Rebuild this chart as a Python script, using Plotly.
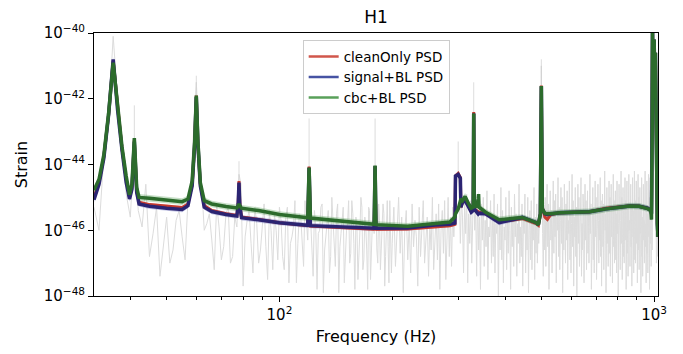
import numpy as np
import plotly.graph_objects as go

# ---------------- data (log10 of strain PSD) ----------------
GRAY_FREQ = np.arange(32, 1024, 2)
GRAY_LOG = [
    -45.3, -43.7, -40.1, -43.3, -45.6, -45.4, -44.6, -46.1, -47.4, -45.6,
    -46.6, -45.4, -46.9, -44.6, -41.5, -44.7, -45.8, -46.3, -45.2, -46.9,
    -45.5, -47.0, -45.6, -44.3, -47.7, -45.7, -46.4, -45.3, -47.0, -45.9,
    -46.5, -45.4, -47.2, -46.0, -45.3, -46.8, -45.6, -47.6, -46.2, -45.1,
    -46.4, -45.6, -47.1, -45.9, -44.6, -46.3, -45.4, -47.8, -46.0, -45.2,
    -46.6, -45.7, -47.3, -45.0, -46.2, -45.5, -47.9, -46.1, -45.3, -46.8,
    -45.8, -47.0, -45.1, -46.4, -45.6, -47.5, -46.0, -45.3, -46.9, -45.9,
    -47.8, -45.4, -46.3, -45.7, -44.8, -46.6, -45.2, -47.2, -46.0, -45.5,
    -46.8, -45.1, -47.6, -45.9, -46.4, -45.3, -47.1, -46.2, -45.0, -46.7,
    -45.6, -47.9, -46.0, -45.4, -46.9, -45.8, -47.3, -45.2, -46.5, -45.7,
    -46.2, -47.7, -45.3, -46.8, -45.9, -45.1, -47.0, -46.3, -45.6, -47.4,
    -45.8, -46.6, -45.0, -47.2, -46.1, -45.5, -46.9, -45.2, -47.8, -46.0,
    -45.4, -46.7, -45.1, -47.5, -46.3, -45.0, -46.8, -45.6, -47.1, -45.3,
    -46.2, -45.1, -44.7, -44.4, -44.2, -44.9, -46.4, -45.0, -45.6, -47.3,
    -45.2, -46.1, -44.9, -47.6, -45.5, -46.4, -45.1, -47.0, -45.8, -44.4,
    -46.0, -45.3, -47.4, -44.9, -46.6, -45.6, -47.8, -45.2, -46.3, -45.0,
    -47.1, -45.7, -46.5, -44.8, -47.5, -45.9, -46.2, -45.1, -47.0, -45.6,
    -46.8, -44.9, -47.3, -45.8, -46.1, -45.2, -48.0, -45.7, -46.6, -44.7,
    -46.9, -45.4, -47.6, -45.9, -46.3, -45.0, -47.2, -45.6, -46.7, -44.8,
    -46.0, -47.8, -45.3, -46.5, -45.7, -47.1, -44.9, -46.2, -45.5, -47.4,
    -45.8, -46.4, -44.6, -47.0, -45.9, -46.8, -45.2, -47.7, -45.6, -46.1,
    -44.9, -47.3, -45.7, -46.6, -45.0, -47.9, -46.0, -45.4, -46.9, -45.1,
    -47.2, -45.8, -46.3, -44.7, -47.5, -45.6, -46.7, -45.2, -47.0, -45.9,
    -46.4, -45.5, -45.1, -44.2, -41.0, -44.5, -46.1, -47.4, -45.3, -46.6,
    -45.0, -47.1, -45.7, -44.6, -46.5, -45.2, -47.8, -45.9, -44.8, -46.3,
    -45.4, -47.3, -45.8, -44.5, -46.7, -45.1, -46.2, -44.9, -47.6, -45.6,
    -46.0, -44.4, -46.8, -45.3, -47.2, -45.7, -44.7, -46.4, -45.0, -47.9,
    -45.5, -46.6, -44.6, -45.9, -47.0, -45.2, -46.3, -44.8, -47.5, -45.7,
    -46.1, -44.5, -46.9, -45.4, -47.3, -45.8, -44.3, -46.5, -45.1, -47.7,
    -45.6, -46.2, -44.7, -46.8, -45.3, -48.0, -45.9, -44.6, -46.4, -45.0,
    -47.1, -45.5, -46.0, -44.4, -47.4, -45.8, -46.6, -44.9, -45.3, -47.6,
    -45.7, -44.6, -46.3, -45.1, -47.2, -45.9, -44.8, -46.7, -45.4, -47.0,
    -45.6, -44.3, -46.1, -45.2, -47.8, -45.8, -46.4, -44.7, -46.9, -45.3,
    -47.3, -45.5, -44.5, -46.2, -45.0, -47.5, -45.9, -46.6, -44.6, -45.7,
    -47.0, -45.4, -46.3, -44.4, -46.8, -45.1, -47.7, -45.8, -44.9, -46.5,
    -45.2, -47.2, -45.6, -44.2, -46.0, -45.5, -47.9, -45.9, -44.7, -46.4,
    -45.3, -47.1, -45.7, -44.5, -46.7, -45.0, -47.4, -45.8, -44.6, -46.2,
    -45.4, -47.6, -45.9, -44.3, -46.5, -45.1, -47.0, -45.6, -44.8, -46.9,
    -45.5, -47.3, -44.5, -46.1, -45.2, -48.0, -45.8, -44.6, -46.6, -45.3,
    -47.2, -45.7, -44.2, -46.4, -45.0, -47.5, -45.9, -44.7, -46.8, -45.4,
    -47.0, -45.6, -44.4, -46.3, -45.1, -47.8, -45.8, -44.5, -46.7, -45.2,
    -47.4, -45.5, -44.3, -46.0, -45.7, -47.1, -45.0, -44.6, -46.5, -45.3,
    -47.7, -45.9, -44.4, -46.2, -45.4, -47.3, -45.6, -44.2, -46.9, -45.1,
    -47.0, -45.8, -44.5, -46.4, -45.2, -47.6, -45.7, -44.3, -46.6, -45.0,
    -47.2, -45.5, -44.7, -46.1, -45.3, -47.9, -45.9, -44.4, -46.8, -45.6,
    -47.4, -45.1, -44.6, -46.3, -45.7, -47.0, -45.4, -44.2, -46.5, -45.8,
    -47.6, -45.2, -44.5, -46.7, -45.5, -47.3, -45.9, -44.3, -46.2, -45.0,
    -47.8, -45.6, -44.4, -46.4, -45.3, -47.1, -45.7, -44.1, -46.6, -45.4,
    -44.6, -43.5, -42.0, -40.5, -40.0, -41.8, -43.0, -44.3, -45.5, -46.2,
    -45.1, -47.0, -45.6, -46.5, -44.9, -46.8,
]
# extra periodogram bins at odd frequencies below 200 Hz
GRAY_FREQ_LOW = np.arange(33, 200, 2)
GRAY_LOG_LOW = [
    -46.0, -42.6, -42.0, -44.9, -43.4, -45.9, -46.8, -45.3, -46.4, -47.0,
    -45.7, -46.2, -45.1, -43.0, -43.2, -46.0, -45.5, -47.2, -45.9, -46.5,
    -45.3, -46.8, -45.9, -44.6, -46.2, -45.4, -47.3, -45.8, -46.6, -45.2,
    -47.5, -46.0, -45.5, -46.9, -45.7, -47.2, -45.3, -46.4, -45.9, -47.6,
    -45.5, -46.6, -45.1, -46.3, -45.6, -47.4, -45.9, -46.1, -45.3, -47.9,
    -46.2, -45.4, -46.8, -45.7, -47.1, -45.2, -46.5, -45.8, -47.6, -46.0,
    -45.1, -46.7, -45.5, -47.8, -45.9, -46.3, -45.0, -47.2, -45.6, -46.6,
    -45.3, -47.5, -45.8, -46.1, -45.4, -47.0, -45.7, -46.4, -45.2, -47.7,
    -45.9, -46.5, -45.1, -47.3,
]

# narrow instrumental lines in the raw periodogram (faint tips above the PSD)
LINE_FREQ = [41, 60, 78, 120, 180, 300, 330, 500, 990]
LINE_BASE = [-43.2, -41.9, -44.55, -44.1, -44.05, -44.3, -42.45, -41.6, -40.0]
LINE_TOP = [-42.2, -41.3, -43.9, -42.6, -42.6, -43.3, -41.5, -40.8, -40.0]

PSD_FREQ = [
    32, 33, 34, 35, 36, 37, 38, 39,
    39.8, 40.4, 41, 41.6, 42.2, 45, 50, 55,
    57, 58.5, 59.4, 60, 60.6, 61.5, 63, 66,
    72, 77, 77.6, 78, 78.4, 79.2, 88, 100,
    119, 120, 121, 150, 179, 180, 181, 220,
    260, 285, 294, 295, 300, 304, 305, 308,
    313, 320, 325, 329, 330, 331, 336, 339,
    340, 341, 355, 386, 445, 485, 491, 497,
    500, 503, 511, 519, 530, 560, 672, 745,
    860, 912, 960, 980, 984, 988, 990, 993,
    996, 1000, 1004, 1008, 1012, 1016, 1020, 1024,
]
CLEAN_LOG = [
    -45.00, -44.55, -43.75, -42.50, -40.85, -42.30, -43.50, -44.45,
    -45.00, -44.70, -43.25, -44.80, -45.15, -45.22, -45.27, -45.31,
    -45.20, -44.60, -43.40, -41.90, -43.40, -44.60, -45.25, -45.40,
    -45.50, -45.55, -45.20, -44.50, -45.20, -45.60, -45.67, -45.77,
    -45.86, -44.06, -45.87, -45.93, -45.97, -44.06, -45.97, -45.96,
    -45.90, -45.86, -45.82, -44.35, -44.27, -44.40, -45.30, -45.15,
    -45.05, -45.30, -45.42, -45.40, -42.40, -45.35, -45.40, -45.45,
    -45.45, -45.45, -45.50, -45.75, -45.64, -45.80, -45.85, -45.50,
    -41.60, -45.30, -45.60, -45.67, -45.52, -45.47, -45.44, -45.33,
    -45.26, -45.27, -45.33, -45.40, -45.50, -43.00, -39.90, -42.00,
    -41.00, -40.20, -41.50, -40.60, -42.50, -45.00, -45.80, -46.20,
]
SIGNAL_LOG = [
    -45.07, -44.60, -43.80, -42.50, -40.80, -42.35, -43.55, -44.55,
    -45.05, -44.75, -43.30, -44.85, -45.20, -45.27, -45.33, -45.37,
    -45.25, -44.65, -43.40, -41.95, -43.40, -44.65, -45.30, -45.43,
    -45.52, -45.57, -45.20, -44.55, -45.25, -45.62, -45.68, -45.77,
    -45.85, -44.10, -45.86, -45.90, -45.94, -44.05, -45.94, -45.93,
    -45.84, -45.82, -45.78, -44.35, -44.30, -44.42, -45.30, -45.15,
    -45.10, -45.30, -45.45, -45.40, -42.45, -45.35, -45.45, -45.50,
    -45.48, -45.48, -45.50, -45.77, -45.61, -45.77, -45.83, -45.50,
    -41.62, -45.35, -45.50, -45.52, -45.50, -45.47, -45.44, -45.35,
    -45.26, -45.27, -45.33, -45.40, -45.50, -43.00, -39.80, -42.00,
    -41.00, -40.20, -41.50, -40.60, -42.50, -45.00, -45.80, -46.20,
]
CBC_LOG = [
    -44.78, -44.45, -43.70, -42.45, -40.90, -42.30, -43.45, -44.35,
    -44.92, -44.60, -43.20, -44.70, -45.00, -45.03, -45.08, -45.13,
    -45.05, -44.50, -43.30, -41.90, -43.30, -44.55, -45.10, -45.20,
    -45.28, -45.32, -45.25, -45.20, -45.25, -45.33, -45.40, -45.52,
    -45.62, -44.09, -45.63, -45.74, -45.82, -44.03, -45.83, -45.88,
    -45.80, -45.75, -45.60, -45.50, -45.35, -45.15, -45.05, -45.10,
    -44.97, -45.20, -45.33, -45.30, -42.45, -45.20, -45.30, -45.05,
    -44.90, -45.30, -45.45, -45.68, -45.61, -45.77, -45.83, -45.50,
    -41.61, -45.35, -45.49, -45.50, -45.50, -45.47, -45.44, -45.35,
    -45.26, -45.27, -45.34, -45.40, -45.68, -43.00, -40.00, -42.00,
    -41.00, -40.20, -41.50, -40.60, -42.50, -45.00, -45.80, -46.20,
]
# half-width of the credible band, in decades
CLEAN_BAND = 0.05
SIGNAL_BAND = 0.08
CBC_BAND = 0.10

SERIES_NAMES = ["cleanOnly PSD", "signal+BL PSD", "cbc+BL PSD"]
X_MINOR = [40, 50, 60, 70, 80, 90, 200, 300, 400, 500, 600, 700, 800, 900]
X_MAJOR = [100, 1000]
X_MAJOR_TEXT = ["10<sup>2</sup>", "10<sup>3</sup>"]
Y_MAJOR_EXP = [-48, -46, -44, -42, -40]

# ---------------- figure ----------------
FONT = "DejaVu Sans"
fig = go.Figure()

gf = np.concatenate([GRAY_FREQ, GRAY_FREQ_LOW])
gv = np.concatenate([np.array(GRAY_LOG), np.array(GRAY_LOG_LOW)])
order = np.argsort(gf, kind="stable")
fig.add_trace(go.Scatter(
    x=gf[order], y=10.0 ** gv[order], mode="lines",
    line=dict(color="#dcdcdc", width=1), showlegend=False, hoverinfo="skip"))

lx, ly = [], []
for f, b, t in zip(LINE_FREQ, LINE_BASE, LINE_TOP):
    lx += [f, f, None]
    ly += [10.0 ** b, 10.0 ** t, None]
fig.add_trace(go.Scatter(x=lx, y=ly, mode="lines",
                         line=dict(color="rgba(205,205,205,0.7)", width=1),
                         showlegend=False, hoverinfo="skip"))

series = [
    (CLEAN_LOG, CLEAN_BAND, "#c63a2e", "rgba(214,70,60,0.30)", "#d1564b", 3),
    (SIGNAL_LOG, SIGNAL_BAND, "#2b2472", "rgba(60,70,170,0.28)", "#4653a3", 3.5),
    (CBC_LOG, CBC_BAND, "#2c6b2c", "rgba(70,150,70,0.30)", "#59a05a", 3.5),
]
f_arr = np.array(PSD_FREQ, dtype=float)
for vals, w, lc, fc, legc, lw in series:
    v = np.array(vals)
    bx = np.concatenate([f_arr, f_arr[::-1]])
    by = np.concatenate([10.0 ** (v + w), (10.0 ** (v - w))[::-1]])
    fig.add_trace(go.Scatter(x=bx, y=by, fill="toself", fillcolor=fc,
                             line=dict(width=0), mode="lines",
                             showlegend=False, hoverinfo="skip"))
for vals, w, lc, fc, legc, lw in series:
    fig.add_trace(go.Scatter(x=PSD_FREQ, y=10.0 ** np.array(vals), mode="lines",
                             line=dict(color=lc, width=lw), showlegend=False))
for name, (vals, w, lc, fc, legc, lw) in zip(SERIES_NAMES, series):
    fig.add_trace(go.Scatter(x=[None], y=[None], mode="lines", name=name,
                             legendgroup="psd",
                             line=dict(color=legc, width=2.5)))

fig.update_layout(
    width=683, height=354,
    margin=dict(l=94, r=25, t=33, b=53),
    paper_bgcolor="white", plot_bgcolor="white",
    font=dict(family=FONT, color="black", size=15),
    title=dict(text="H1", x=0.5, xref="paper", xanchor="center",
               y=1 - 17 / 354, yref="container", yanchor="middle",
               font=dict(size=17, family=FONT)),
    legend=dict(x=0.37, y=0.973, xanchor="left", yanchor="top",
                bgcolor="rgba(255,255,255,0.85)", bordercolor="#cccccc",
                borderwidth=1, font=dict(size=13.5, family=FONT),
                itemwidth=30, tracegroupgap=0),
    showlegend=True,
)
fig.update_xaxes(
    type="log", range=[np.log10(32), np.log10(1024)],
    tickmode="array", tickvals=X_MAJOR, ticktext=X_MAJOR_TEXT,
    ticks="outside", ticklen=5, tickwidth=1, tickcolor="black",
    showline=True, linecolor="black", linewidth=1, mirror=True,
    showgrid=False, zeroline=False,
    minor=dict(tickmode="array", tickvals=X_MINOR, ticks="outside",
               ticklen=3, tickwidth=1, tickcolor="black", showgrid=False),
    tickfont=dict(size=15),
    title=dict(text="Frequency (Hz)", font=dict(size=16), standoff=7),
)
fig.update_yaxes(
    type="log", range=[-48, -40],
    tickmode="array", tickvals=[10.0 ** e for e in Y_MAJOR_EXP],
    ticktext=["10<sup>\u2212%d</sup>" % (-e) for e in Y_MAJOR_EXP],
    ticks="outside", ticklen=5, tickwidth=1, tickcolor="black",
    showline=True, linecolor="black", linewidth=1, mirror=True,
    showgrid=False, zeroline=False,
    tickfont=dict(size=15),
    title=dict(text="Strain", font=dict(size=16), standoff=12),
)

fig.write_html("out.html")
